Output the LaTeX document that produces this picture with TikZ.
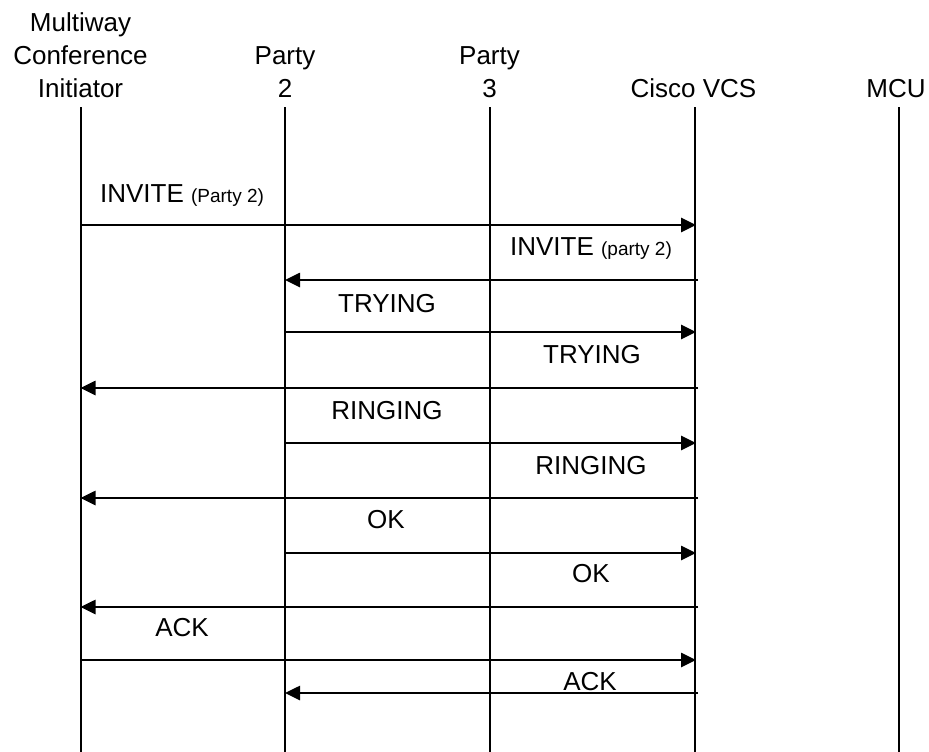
\documentclass[tikz,border=0pt]{standalone}
\usepackage{fontspec}
\setmainfont{Liberation Sans}
\usetikzlibrary{arrows.meta}
\begin{document}
\begin{tikzpicture}[x=1pt,y=-1pt,
  life/.style={line width=2pt},
  msg/.style={line width=2.6pt,-{Triangle[length=15pt,width=14pt]}},
  txt/.style={font=\fontsize{26}{31}\selectfont, anchor=base, inner sep=0pt}]
\useasboundingbox (0,0) rectangle (929,752);
% headers
\node[txt] (hA1) at (80.5,32) {Multiway};
\node[txt] (hA2) at (80.5,65) {Conference};
\node[txt] (hA3) at (80.5,97) {Initiator};
\node[txt] (hB1) at (285,65) {Party};
\node[txt] (hB2) at (285,97) {2};
\node[txt] (hC1) at (489.5,65) {Party};
\node[txt] (hC2) at (489.5,97) {3};
\node[txt] (hD) at (693.5,97) {Cisco VCS};
\node[txt] (hE) at (896,97) {MCU};
% lifelines
\foreach \n/\x in {A/80.5,B/285,C/489.5,D/694.5,E/898.5}{
  \coordinate (\n t) at (\x,107);
  \coordinate (\n b) at (\x,752);
  \draw[life] (\n t) -- (\n b);
}
% messages
\coordinate (m1s) at (80.5,225);  \coordinate (m1e) at (696,225);
\coordinate (m2s) at (698,280);   \coordinate (m2e) at (285,280);
\coordinate (m3s) at (285,332);   \coordinate (m3e) at (696,332);
\coordinate (m4s) at (698,388);   \coordinate (m4e) at (80.5,388);
\coordinate (m5s) at (285,443);   \coordinate (m5e) at (696,443);
\coordinate (m6s) at (698,498);   \coordinate (m6e) at (80.5,498);
\coordinate (m7s) at (285,553);   \coordinate (m7e) at (696,553);
\coordinate (m8s) at (698,607);   \coordinate (m8e) at (80.5,607);
\coordinate (m9s) at (80.5,660);  \coordinate (m9e) at (696,660);
\coordinate (m10s) at (698,693);  \coordinate (m10e) at (285,693);
\foreach \i in {1,...,10}{
  \draw[msg] (m\i s) -- (m\i e);
}
% labels
\node[txt] (l1) at (182,202) {INVITE {\fontsize{19}{22}\selectfont (Party 2)}};
\node[txt] (l2) at (591,255) {INVITE {\fontsize{19}{22}\selectfont (party 2)}};
\node[txt] (l3) at (387,312) {TRYING};
\node[txt] (l4) at (592,363) {TRYING};
\node[txt] (l5) at (387,419) {RINGING};
\node[txt] (l6) at (591,474) {RINGING};
\node[txt] (l7) at (386,528) {OK};
\node[txt] (l8) at (591,582) {OK};
\node[txt] (l9) at (182,636) {ACK};
\node[txt] (l10) at (590,690) {ACK};
\end{tikzpicture}
\end{document}
